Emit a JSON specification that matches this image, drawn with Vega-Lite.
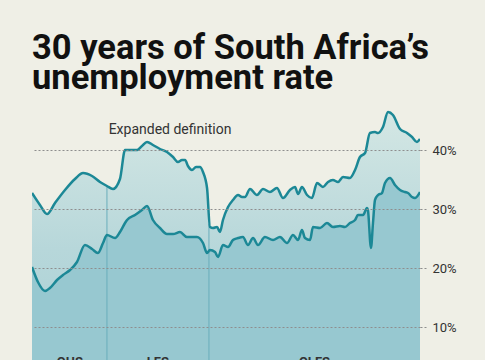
{
  "$schema": "https://vega.github.io/schema/vega-lite/v6.json",
  "autosize": "none",
  "width": 388,
  "height": 269,
  "padding": {"left": 32, "top": 91, "right": 65, "bottom": 0},
  "background": "#EFEFE6",
  "title": {
    "text": ["30 years of South Africa’s", "unemployment rate"],
    "anchor": "start",
    "frame": "group",
    "font": "Roboto",
    "fontSize": 34.5,
    "fontWeight": "bold",
    "color": "#111111",
    "lineHeight": 30,
    "offset": -5
  },
  "config": {
    "view": {"stroke": null},
    "font": "Roboto"
  },
  "datasets": {
    "rates": [
      {"series": "Expanded", "year": 1994.00, "rate": 32.71},
      {"series": "Expanded", "year": 1994.63, "rate": 30.68},
      {"series": "Expanded", "year": 1995.19, "rate": 29.15},
      {"series": "Expanded", "year": 1995.82, "rate": 31.02},
      {"series": "Expanded", "year": 1996.61, "rate": 33.22},
      {"series": "Expanded", "year": 1997.40, "rate": 35.08},
      {"series": "Expanded", "year": 1998.04, "rate": 36.10},
      {"series": "Expanded", "year": 1998.75, "rate": 35.59},
      {"series": "Expanded", "year": 1999.38, "rate": 34.58},
      {"series": "Expanded", "year": 1999.93, "rate": 33.90},
      {"series": "Expanded", "year": 2000.41, "rate": 33.39},
      {"series": "Expanded", "year": 2000.96, "rate": 35.08},
      {"series": "Expanded", "year": 2001.36, "rate": 40.00},
      {"series": "Expanded", "year": 2001.83, "rate": 40.00},
      {"series": "Expanded", "year": 2002.31, "rate": 40.00},
      {"series": "Expanded", "year": 2002.70, "rate": 40.68},
      {"series": "Expanded", "year": 2003.10, "rate": 41.36},
      {"series": "Expanded", "year": 2003.57, "rate": 40.85},
      {"series": "Expanded", "year": 2004.13, "rate": 40.17},
      {"series": "Expanded", "year": 2004.68, "rate": 39.66},
      {"series": "Expanded", "year": 2005.16, "rate": 38.81},
      {"series": "Expanded", "year": 2005.55, "rate": 37.97},
      {"series": "Expanded", "year": 2005.87, "rate": 38.31},
      {"series": "Expanded", "year": 2006.11, "rate": 38.31},
      {"series": "Expanded", "year": 2006.34, "rate": 37.29},
      {"series": "Expanded", "year": 2006.66, "rate": 36.61},
      {"series": "Expanded", "year": 2006.98, "rate": 37.12},
      {"series": "Expanded", "year": 2007.29, "rate": 37.12},
      {"series": "Expanded", "year": 2007.53, "rate": 36.27},
      {"series": "Expanded", "year": 2007.85, "rate": 33.56},
      {"series": "Expanded", "year": 2008.08, "rate": 26.95},
      {"series": "Expanded", "year": 2008.32, "rate": 26.78},
      {"series": "Expanded", "year": 2008.64, "rate": 26.95},
      {"series": "Expanded", "year": 2008.87, "rate": 26.10},
      {"series": "Expanded", "year": 2009.11, "rate": 28.14},
      {"series": "Expanded", "year": 2009.51, "rate": 30.34},
      {"series": "Expanded", "year": 2009.90, "rate": 31.53},
      {"series": "Expanded", "year": 2010.30, "rate": 32.37},
      {"series": "Expanded", "year": 2010.62, "rate": 32.03},
      {"series": "Expanded", "year": 2010.85, "rate": 32.03},
      {"series": "Expanded", "year": 2011.25, "rate": 33.39},
      {"series": "Expanded", "year": 2011.80, "rate": 32.37},
      {"series": "Expanded", "year": 2012.28, "rate": 33.39},
      {"series": "Expanded", "year": 2012.83, "rate": 32.88},
      {"series": "Expanded", "year": 2013.38, "rate": 33.56},
      {"series": "Expanded", "year": 2013.86, "rate": 31.86},
      {"series": "Expanded", "year": 2014.41, "rate": 33.22},
      {"series": "Expanded", "year": 2014.81, "rate": 33.73},
      {"series": "Expanded", "year": 2015.05, "rate": 32.54},
      {"series": "Expanded", "year": 2015.36, "rate": 33.73},
      {"series": "Expanded", "year": 2015.76, "rate": 32.37},
      {"series": "Expanded", "year": 2016.15, "rate": 31.86},
      {"series": "Expanded", "year": 2016.55, "rate": 34.41},
      {"series": "Expanded", "year": 2017.02, "rate": 33.73},
      {"series": "Expanded", "year": 2017.42, "rate": 34.58},
      {"series": "Expanded", "year": 2017.81, "rate": 34.92},
      {"series": "Expanded", "year": 2018.21, "rate": 34.58},
      {"series": "Expanded", "year": 2018.61, "rate": 35.42},
      {"series": "Expanded", "year": 2019.16, "rate": 35.25},
      {"series": "Expanded", "year": 2019.56, "rate": 36.61},
      {"series": "Expanded", "year": 2019.95, "rate": 38.81},
      {"series": "Expanded", "year": 2020.35, "rate": 39.49},
      {"series": "Expanded", "year": 2020.74, "rate": 42.88},
      {"series": "Expanded", "year": 2021.14, "rate": 43.05},
      {"series": "Expanded", "year": 2021.38, "rate": 42.88},
      {"series": "Expanded", "year": 2021.77, "rate": 43.90},
      {"series": "Expanded", "year": 2022.17, "rate": 46.44},
      {"series": "Expanded", "year": 2022.56, "rate": 45.93},
      {"series": "Expanded", "year": 2023.12, "rate": 43.56},
      {"series": "Expanded", "year": 2023.67, "rate": 42.88},
      {"series": "Expanded", "year": 2024.07, "rate": 42.20},
      {"series": "Expanded", "year": 2024.46, "rate": 41.36},
      {"series": "Expanded", "year": 2024.70, "rate": 41.86},
      {"series": "Official", "year": 1994.00, "rate": 20.17},
      {"series": "Official", "year": 1994.47, "rate": 17.63},
      {"series": "Official", "year": 1995.03, "rate": 16.10},
      {"series": "Official", "year": 1995.42, "rate": 16.61},
      {"series": "Official", "year": 1995.98, "rate": 17.97},
      {"series": "Official", "year": 1996.45, "rate": 18.81},
      {"series": "Official", "year": 1997.01, "rate": 19.66},
      {"series": "Official", "year": 1997.56, "rate": 21.02},
      {"series": "Official", "year": 1998.19, "rate": 23.90},
      {"series": "Official", "year": 1998.75, "rate": 23.22},
      {"series": "Official", "year": 1999.22, "rate": 22.54},
      {"series": "Official", "year": 1999.62, "rate": 24.24},
      {"series": "Official", "year": 1999.93, "rate": 25.59},
      {"series": "Official", "year": 2000.57, "rate": 25.08},
      {"series": "Official", "year": 2000.96, "rate": 26.10},
      {"series": "Official", "year": 2001.36, "rate": 27.63},
      {"series": "Official", "year": 2001.52, "rate": 28.14},
      {"series": "Official", "year": 2002.15, "rate": 28.98},
      {"series": "Official", "year": 2002.70, "rate": 29.83},
      {"series": "Official", "year": 2003.10, "rate": 30.51},
      {"series": "Official", "year": 2003.57, "rate": 28.14},
      {"series": "Official", "year": 2004.13, "rate": 26.78},
      {"series": "Official", "year": 2004.68, "rate": 25.76},
      {"series": "Official", "year": 2005.16, "rate": 25.76},
      {"series": "Official", "year": 2005.71, "rate": 26.10},
      {"series": "Official", "year": 2006.26, "rate": 25.25},
      {"series": "Official", "year": 2007.05, "rate": 25.25},
      {"series": "Official", "year": 2007.53, "rate": 24.24},
      {"series": "Official", "year": 2007.85, "rate": 22.54},
      {"series": "Official", "year": 2008.08, "rate": 23.05},
      {"series": "Official", "year": 2008.48, "rate": 22.71},
      {"series": "Official", "year": 2008.72, "rate": 21.86},
      {"series": "Official", "year": 2009.11, "rate": 23.90},
      {"series": "Official", "year": 2009.51, "rate": 23.56},
      {"series": "Official", "year": 2009.90, "rate": 24.75},
      {"series": "Official", "year": 2010.30, "rate": 25.08},
      {"series": "Official", "year": 2010.69, "rate": 25.25},
      {"series": "Official", "year": 2011.09, "rate": 23.90},
      {"series": "Official", "year": 2011.49, "rate": 25.08},
      {"series": "Official", "year": 2011.88, "rate": 23.90},
      {"series": "Official", "year": 2012.43, "rate": 25.25},
      {"series": "Official", "year": 2013.07, "rate": 24.75},
      {"series": "Official", "year": 2013.62, "rate": 25.25},
      {"series": "Official", "year": 2014.18, "rate": 24.24},
      {"series": "Official", "year": 2014.65, "rate": 25.59},
      {"series": "Official", "year": 2015.05, "rate": 24.75},
      {"series": "Official", "year": 2015.36, "rate": 26.44},
      {"series": "Official", "year": 2015.60, "rate": 25.08},
      {"series": "Official", "year": 2016.00, "rate": 24.75},
      {"series": "Official", "year": 2016.23, "rate": 26.95},
      {"series": "Official", "year": 2016.79, "rate": 26.78},
      {"series": "Official", "year": 2017.34, "rate": 27.63},
      {"series": "Official", "year": 2017.81, "rate": 26.95},
      {"series": "Official", "year": 2018.37, "rate": 27.12},
      {"series": "Official", "year": 2018.76, "rate": 26.95},
      {"series": "Official", "year": 2019.16, "rate": 27.63},
      {"series": "Official", "year": 2019.56, "rate": 28.14},
      {"series": "Official", "year": 2019.79, "rate": 28.98},
      {"series": "Official", "year": 2020.19, "rate": 28.98},
      {"series": "Official", "year": 2020.51, "rate": 30.17},
      {"series": "Official", "year": 2020.58, "rate": 29.83},
      {"series": "Official", "year": 2020.82, "rate": 23.39},
      {"series": "Official", "year": 2020.98, "rate": 27.63},
      {"series": "Official", "year": 2021.14, "rate": 31.53},
      {"series": "Official", "year": 2021.38, "rate": 32.37},
      {"series": "Official", "year": 2021.69, "rate": 32.71},
      {"series": "Official", "year": 2021.93, "rate": 34.41},
      {"series": "Official", "year": 2022.33, "rate": 35.25},
      {"series": "Official", "year": 2022.72, "rate": 34.07},
      {"series": "Official", "year": 2023.12, "rate": 33.22},
      {"series": "Official", "year": 2023.51, "rate": 32.88},
      {"series": "Official", "year": 2023.75, "rate": 32.71},
      {"series": "Official", "year": 2024.07, "rate": 32.03},
      {"series": "Official", "year": 2024.30, "rate": 31.86},
      {"series": "Official", "year": 2024.70, "rate": 32.88}
    ],
    "surveys": [
      {"survey": "OHS", "start": 1994.0, "mid": 1997.0, "top": 33.9},
      {"survey": "LFS", "start": 1999.93, "mid": 2003.96, "top": 33.9},
      {"survey": "QLFS", "start": 2008.0, "mid": 2016.35, "top": 27.5}
    ],
    "notes": [
      {"label": "Expanded definition", "year": 2004.92, "rate": 42.7}
    ]
  },
  "layer": [
    {
      "data": {"name": "rates"},
      "transform": [{"filter": "datum.series === 'Expanded'"}],
      "mark": {
        "type": "area",
        "interpolate": "monotone",
        "clip": true,
        "color": {
          "gradient": "linear",
          "x1": 0, "y1": 0, "x2": 0, "y2": 1,
          "stops": [
            {"offset": 0, "color": "#D4E7E4"},
            {"offset": 0.5, "color": "#B7D7DA"},
            {"offset": 1, "color": "#A6CFD5"}
          ]
        }
      },
      "encoding": {
        "x": {"field": "year", "type": "quantitative", "scale": {"domain": [1994, 2024.7], "nice": false, "zero": false}, "axis": null},
        "y": {"field": "rate", "type": "quantitative", "scale": {"domain": [4.41, 50], "nice": false, "zero": false},
          "axis": {
            "orient": "right",
            "values": [10, 20, 30, 40],
            "labelExpr": "datum.value + '%'",
            "title": null,
            "domain": false,
            "grid": true,
            "gridDash": [2, 2],
            "gridColor": "#8E8E8E",
            "gridWidth": 1,
            "ticks": true,
            "tickSize": 8,
            "tickDash": [2, 2],
            "tickColor": "#8E8E8E",
            "labelPadding": 4,
            "labelFont": "Roboto",
            "labelFontSize": 13,
            "labelColor": "#333333",
            "zindex": 1
          }
        }
      }
    },
    {
      "data": {"name": "rates"},
      "transform": [{"filter": "datum.series === 'Official'"}],
      "mark": {"type": "area", "interpolate": "monotone", "clip": true, "color": "#97C8D0"},
      "encoding": {
        "x": {"field": "year", "type": "quantitative"},
        "y": {"field": "rate", "type": "quantitative"}
      }
    },
    {
      "data": {"name": "surveys"},
      "transform": [{"filter": "datum.survey !== 'OHS'"}],
      "mark": {"type": "rule", "color": "#6AAEBB", "strokeWidth": 1, "clip": true},
      "encoding": {
        "x": {"field": "start", "type": "quantitative"},
        "y": {"field": "top", "type": "quantitative"},
        "y2": {"datum": 0}
      }
    },
    {
      "data": {"name": "rates"},
      "mark": {"type": "line", "interpolate": "monotone", "clip": true, "color": "#1C8896", "strokeWidth": 2.5},
      "encoding": {
        "x": {"field": "year", "type": "quantitative"},
        "y": {"field": "rate", "type": "quantitative"},
        "detail": {"field": "series"}
      }
    },
    {
      "data": {"name": "notes"},
      "mark": {"type": "text", "font": "Roboto", "fontSize": 14, "color": "#333333", "align": "center", "baseline": "alphabetic"},
      "encoding": {
        "x": {"field": "year", "type": "quantitative"},
        "y": {"field": "rate", "type": "quantitative"},
        "text": {"field": "label"}
      }
    },
    {
      "data": {"name": "surveys"},
      "mark": {"type": "text", "font": "Roboto", "fontSize": 13, "fontWeight": "bold", "color": "#333333", "align": "center", "baseline": "alphabetic"},
      "encoding": {
        "x": {"field": "mid", "type": "quantitative"},
        "y": {"datum": 3.4},
        "text": {"field": "survey"}
      }
    },
    {
      "mark": {"type": "rect", "color": "#E3120B", "clip": false},
      "encoding": {
        "x": {"datum": 1991.47},
        "x2": {"datum": 1994.63},
        "y": {"datum": 65.42},
        "y2": {"datum": 64.07}
      }
    }
  ]
}
